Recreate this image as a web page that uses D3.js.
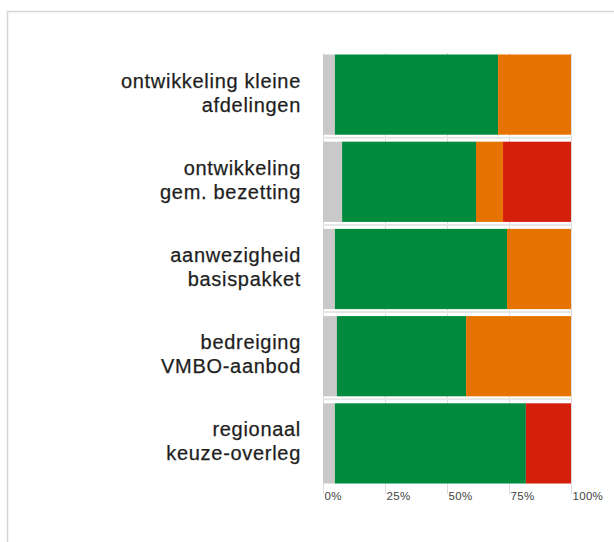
<!DOCTYPE html>
<html><head><meta charset="utf-8">
<script src="https://cdn.jsdelivr.net/npm/d3@7"></script>
<style>body{margin:0;background:#fff}svg{display:block}</style>
</head><body>
<svg id="c" width="614" height="542"></svg>
<script>
const categories = [
  ["ontwikkeling kleine", "afdelingen"],
  ["ontwikkeling", "gem. bezetting"],
  ["aanwezigheid", "basispakket"],
  ["bedreiging", "VMBO-aanbod"],
  ["regionaal", "keuze-overleg"]
];
const seriesNames = ["geen", "groen", "oranje", "rood"];
const grayVals   = [4.8, 7.7, 4.8, 5.6, 4.8];
const greenVals  = [65.8, 54.0, 69.4, 52.1, 77.0];
const orangeVals = [29.4, 10.9, 25.8, 42.3, 0];
const redVals    = [0, 27.4, 0, 0, 18.2];
const tickVals   = [0, 25, 50, 75, 100];
const tickLabels = ["0%", "25%", "50%", "75%", "100%"];
const colors = ["#c9c9c9", "#008a3e", "#e67300", "#d41f0d"];

const svg = d3.select("#c");
// outer frame
svg.append("path").attr("d", "M7.5,620 V11.5 H700").attr("fill", "none").attr("stroke", "#d6d6d6").attr("stroke-width", 1.5);

const keys = categories.map((c, i) => i);
const data = keys.map(i => ({ geen: grayVals[i], groen: greenVals[i], oranje: orangeVals[i], rood: redVals[i] }));
const x = d3.scaleLinear().domain([0, 100]).range([323, 571]);
const y = d3.scaleBand().domain(keys).range([51, 487]).paddingInner(0.08).paddingOuter(0.04);

// gridlines
svg.append("g").selectAll("line").data(tickVals).join("line")
  .attr("x1", d => x(d) + 0.5).attr("x2", d => x(d) + 0.5)
  .attr("y1", 53).attr("y2", 494)
  .attr("stroke", "#dcdcdc").attr("stroke-width", 1);
// faint horizontal separators in gaps
svg.append("g").selectAll("line").data(keys.slice(1)).join("line")
  .attr("x1", x(0)).attr("x2", x(100))
  .attr("y1", d => y(d) - y.step() * 0.04 - 0.5).attr("y2", d => y(d) - y.step() * 0.04 - 0.5)
  .attr("stroke", "#e6e6e6").attr("stroke-width", 2);

const stack = d3.stack().keys(seriesNames)(data);
svg.append("g").selectAll("g").data(stack).join("g")
  .attr("fill", (d, i) => colors[i])
  .selectAll("rect").data(d => d.map((v, i) => ({ v, i }))).join("rect")
  .attr("x", d => x(d.v[0]))
  .attr("width", d => Math.max(0, x(d.v[1]) - x(d.v[0])))
  .attr("y", d => y(d.i))
  .attr("height", y.bandwidth());

// category labels
const lab = svg.append("g").selectAll("text").data(keys).join("text")
  .attr("text-anchor", "end")
  .attr("font-family", "Liberation Sans, Arial, sans-serif")
  .attr("font-size", 20)
  .attr("letter-spacing", 0.7)
  .attr("fill", "#1e1e1e")
  .attr("stroke", "#1e1e1e").attr("stroke-width", 0.25)
  .attr("transform", d => `translate(301,${y(d) + y.bandwidth() / 2})`);
lab.append("tspan").attr("x", 0).attr("y", -7).text(d => categories[d][0]);
lab.append("tspan").attr("x", 0).attr("y", 17).text(d => categories[d][1]);

// x axis tick labels
svg.append("g").selectAll("text").data(tickVals).join("text")
  .attr("x", d => x(d) + 1.5).attr("y", 500)
  .attr("font-family", "Liberation Sans, Arial, sans-serif")
  .attr("font-size", 11.5).attr("letter-spacing", 0.3).attr("fill", "#444")
  .text((d, i) => tickLabels[i]);
</script>
</body></html>
